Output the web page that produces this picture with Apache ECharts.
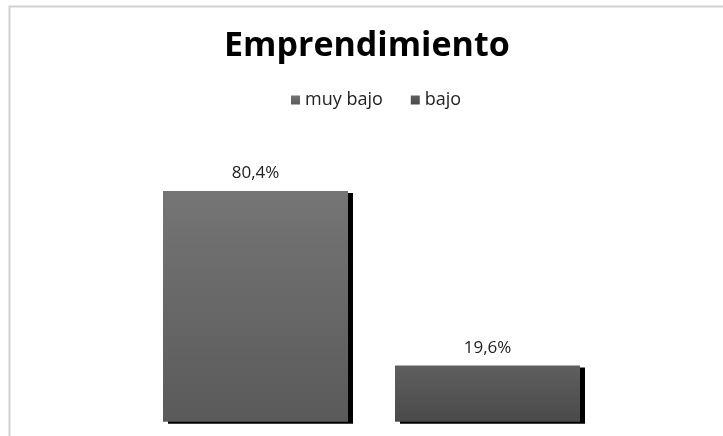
<!DOCTYPE html>
<html>
<head>
<meta charset="utf-8">
<script src="https://cdn.jsdelivr.net/npm/echarts@6/dist/echarts.min.js"></script>
<style>
html,body{margin:0;padding:0;background:#fff;}
#c{width:723px;height:436px;}
</style>
</head>
<body>
<div id="c"></div>
<script>
var categories = ['Emprendimiento'];
var seriesNames = ['muy bajo', 'bajo'];
var muyBajo = [80.4];
var bajo = [19.6];

var chart = echarts.init(document.getElementById('c'));
function grad(top, bottom) {
  return new echarts.graphic.LinearGradient(0, 0, 0, 1, [
    {offset: 0, color: top}, {offset: 1, color: bottom}
  ]);
}
var labelCfg = {
  show: true, position: 'top', distance: 9,
  fontFamily: 'Open Sans', fontSize: 17, color: '#222',
  formatter: function (p) { return p.value.toFixed(1).replace('.', ',') + '%'; }
};
chart.setOption({
  animation: false,
  graphic: [{
    type: 'rect', silent: true, z: -1,
    shape: {x: 9.5, y: 6.5, width: 800, height: 600},
    style: {fill: 'none', stroke: '#d2d2d2', lineWidth: 2}
  }],
  title: {
    text: 'Emprendimiento', left: 219, top: 24,
    textStyle: {fontFamily: 'Open Sans', fontWeight: 'bold', fontSize: 34, color: '#000'}
  },
  legend: {
    data: seriesNames, top: 86, left: 286,
    itemWidth: 9, itemHeight: 9, itemGap: 28, icon: 'rect',
    textStyle: {fontFamily: 'Open Sans', fontSize: 18, color: '#222'}
  },
  grid: {left: 30, right: 10, top: 134.8, bottom: 14.3},
  xAxis: {type: 'category', data: categories, show: false},
  yAxis: {type: 'value', min: 0, max: 100, show: false},
  series: [{
    name: seriesNames[0], type: 'bar', data: muyBajo,
    barWidth: 185, barGap: '25.4%',
    itemStyle: {
      color: grad('#757575', '#5a5a5a'),
      shadowColor: '#000', shadowOffsetX: 5, shadowOffsetY: 2, shadowBlur: 0
    },
    label: labelCfg
  }, {
    name: seriesNames[1], type: 'bar', data: bajo,
    barWidth: 185,
    itemStyle: {
      color: grad('#5f5f5f', '#4a4a4a'),
      shadowColor: '#000', shadowOffsetX: 5, shadowOffsetY: 2, shadowBlur: 0
    },
    label: labelCfg
  }]
});
</script>
</body>
</html>
